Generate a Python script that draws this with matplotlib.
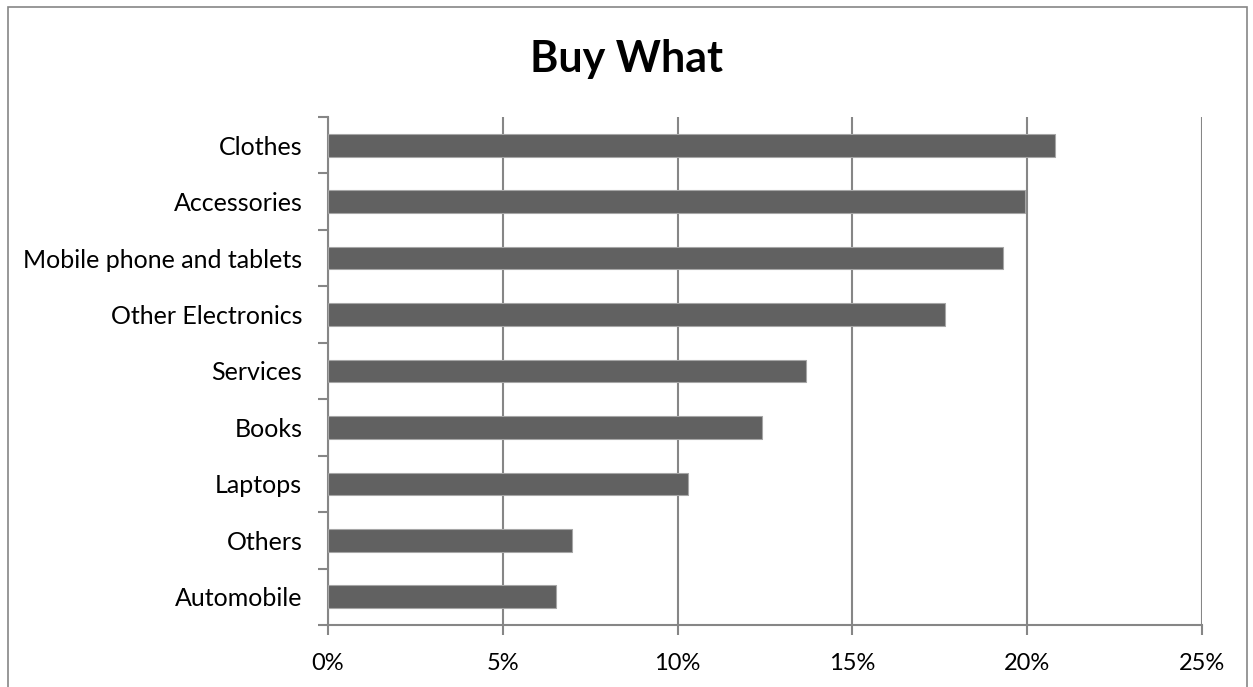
import matplotlib
matplotlib.use("Agg")
import matplotlib.pyplot as plt
from matplotlib.ticker import FixedLocator, PercentFormatter
from matplotlib.patches import Rectangle

categories = ["Automobile", "Others", "Laptops", "Books", "Services",
              "Other Electronics", "Mobile phone and tablets", "Accessories", "Clothes"]
values = [6.51, 6.99, 10.30, 12.40, 13.66, 17.64, 19.31, 19.94, 20.79]
xticks = [0, 5, 10, 15, 20, 25]
title = "Buy What"

plt.rcParams['font.family'] = ['Lato', 'DejaVu Sans']

W, H = 1253, 687
fig = plt.figure(figsize=(W / 100, H / 100), dpi=100)
ax = fig.add_axes([328 / W, 1 - 625 / H, (1202 - 328) / W, (625 - 117) / H])

ypos = list(range(len(categories)))
ax.barh(ypos, values, height=0.4, color='#616161', edgecolor='#a6a6a6', linewidth=0.8, zorder=3)

ax.set_xlim(0, 25)
ax.set_ylim(-0.5, len(categories) - 0.5)
ax.set_xticks(xticks)
ax.xaxis.set_major_formatter(PercentFormatter(decimals=0))
ax.set_yticks(ypos)
ax.set_yticklabels(categories)
ax.yaxis.set_minor_locator(FixedLocator([i - 0.5 for i in range(len(categories) + 1)]))

ax.grid(axis='x', color='#868686', linewidth=1.5, zorder=0)
for s in ['top', 'right']:
    ax.spines[s].set_visible(False)
for s in ['left', 'bottom']:
    ax.spines[s].set_color('#868686')
    ax.spines[s].set_linewidth(1.5)

ax.tick_params(axis='y', which='major', length=0, pad=18.5, labelsize=18, labelcolor='black')
ax.tick_params(axis='y', which='minor', length=7, width=1.5, color='#868686')
ax.tick_params(axis='x', which='major', length=7, width=1.5, color='#868686', pad=13,
               labelsize=17, labelcolor='black')

fig.text(0.5, 1 - 72 / H, title, ha='center', va='baseline', fontsize=31, fontweight='bold')

# chart area border
fig.patches.append(Rectangle((8 / W, -0.01), (1247 - 8) / W, 1 - 7 / H + 0.01,
                             transform=fig.transFigure, fill=False,
                             edgecolor='#868686', linewidth=1.2))

fig.savefig("out.png", dpi=100)
